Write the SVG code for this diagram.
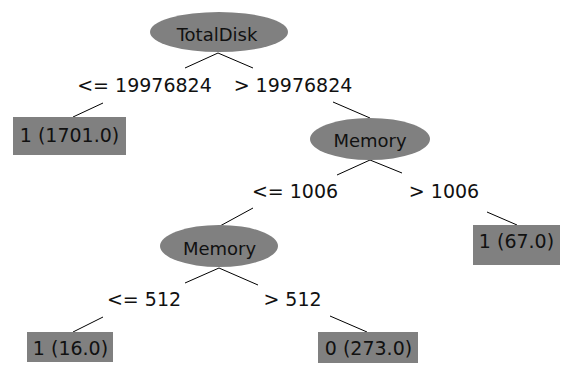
<svg xmlns="http://www.w3.org/2000/svg" width="562" height="368" viewBox="0 0 562 368">
<style>
text{font-family:"DejaVu Sans","Liberation Sans",sans-serif;fill:#111;text-anchor:middle}
.n{font-size:18px}
.e{font-size:19px}
.l{font-size:19px}
.ell{fill:#808080}
.leaf{fill:#808080}
#edges line{stroke:#000;stroke-width:1}
</style>
<rect width="562" height="368" fill="#fff"/>
<g id="edges">
<line x1="218" y1="53" x2="185" y2="68"/>
<line x1="218" y1="53" x2="253" y2="68"/>
<line x1="103" y1="103" x2="73" y2="117"/>
<line x1="333" y1="102" x2="370" y2="118"/>
<line x1="370" y1="160" x2="337" y2="175"/>
<line x1="370" y1="160" x2="402" y2="173"/>
<line x1="253" y1="208" x2="220" y2="226"/>
<line x1="487" y1="212" x2="517" y2="225"/>
<line x1="219" y1="268" x2="185" y2="283"/>
<line x1="219" y1="268" x2="258" y2="285"/>
<line x1="103" y1="317" x2="73" y2="332"/>
<line x1="330" y1="316" x2="367" y2="332"/>
</g>
<g id="labels">
<text class="e" x="144.5" y="92">&lt;= 19976824</text>
<text class="e" x="293" y="92">&gt; 19976824</text>
<text class="e" x="295" y="198">&lt;= 1006</text>
<text class="e" x="444" y="198">&gt; 1006</text>
<text class="e" x="144" y="306">&lt;= 512</text>
<text class="e" x="292.5" y="306">&gt; 512</text>
</g>
<g id="n0"><ellipse class="ell" cx="219" cy="32" rx="69" ry="20"/><text class="n" x="217" y="41">TotalDisk</text></g>
<g id="n1"><rect class="leaf" x="13" y="117" width="113" height="38"/><text class="l" x="69.5" y="142">1 (1701.0)</text></g>
<g id="n2"><ellipse class="ell" cx="370" cy="139" rx="60" ry="21"/><text class="n" x="370" y="147">Memory</text></g>
<g id="n3"><rect class="leaf" x="473" y="225" width="87" height="40"/><text class="l" x="516.5" y="248">1 (67.0)</text></g>
<g id="n4"><ellipse class="ell" cx="219" cy="246" rx="59" ry="21"/><text class="n" x="219.5" y="255">Memory</text></g>
<g id="n5"><rect class="leaf" x="27" y="332" width="86" height="30"/><text class="l" x="70.5" y="355">1 (16.0)</text></g>
<g id="n6"><rect class="leaf" x="318" y="332" width="100" height="31"/><text class="l" x="368.5" y="355">0 (273.0)</text></g>
</svg>
